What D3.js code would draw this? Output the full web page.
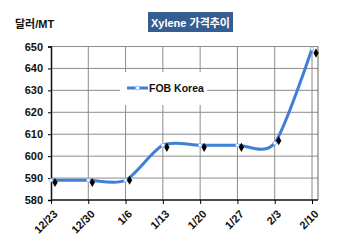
<!DOCTYPE html>
<html>
<head>
<meta charset="utf-8">
<script src="https://cdn.jsdelivr.net/npm/d3@7"></script>
<style>
body { margin: 0; background: #fff; }
svg text { font-family: Arial, "Liberation Sans", "Noto Sans CJK KR", sans-serif; font-weight: bold; }
</style>
</head>
<body>
<svg id="chart" width="350" height="244"></svg>
<script>
var dates = ["12/23", "12/30", "1/6", "1/13", "1/20", "1/27", "2/3", "2/10"];
var fobKorea = [589, 589, 589, 605, 605, 605, 606, 649];
var marks = [588, 588, 589, 604, 604, 604, 607, 647];
var yTicks = [580, 590, 600, 610, 620, 630, 640, 650];

var svg = d3.select("#chart");
var plotL = 51, plotR = 318, plotT = 46.5, plotB = 200;

var x = d3.scalePoint().domain(dates).range([plotL, 312]);
var y = d3.scaleLinear().domain([580, 650]).range([plotB, plotT]);

// grid
var grid = svg.append("g");
grid.selectAll("line.h").data(yTicks.slice(1)).enter().append("line")
  .attr("x1", plotL).attr("x2", plotR)
  .attr("y1", function(d) { return y(d); }).attr("y2", function(d) { return y(d); })
  .attr("stroke", "#8c8c8c").attr("stroke-width", 1);
grid.selectAll("line.v").data(dates.slice(1)).enter().append("line")
  .attr("y1", plotT).attr("y2", plotB)
  .attr("x1", function(d) { return x(d); }).attr("x2", function(d) { return x(d); })
  .attr("stroke", "#8c8c8c").attr("stroke-width", 1);
svg.append("line").attr("x1", plotR).attr("x2", plotR).attr("y1", plotT).attr("y2", plotB)
  .attr("stroke", "#666");

// legend box covers grid
svg.append("rect").attr("x", 120).attr("y", 72).attr("width", 87).attr("height", 33).attr("fill", "#fff");

// axes
var yAxis = d3.axisLeft(y).tickValues(yTicks).tickSize(3).tickPadding(5);
var gy = svg.append("g").attr("transform", "translate(" + plotL + ",0)").call(yAxis);
gy.selectAll("text").attr("font-size", 11).attr("fill", "#111");
gy.select(".domain").attr("stroke", "#111").attr("stroke-width", 1.5);

var xAxis = d3.axisBottom(x).tickSize(4).tickSizeOuter(0);
var gx = svg.append("g").attr("transform", "translate(0," + plotB + ")").call(xAxis);
gx.select(".domain").attr("d", "M" + plotL + ",0H" + plotR).attr("stroke", "#111").attr("stroke-width", 1.5);
gx.selectAll("text")
  .attr("font-size", 11).attr("fill", "#111")
  .attr("text-anchor", "end")
  .attr("transform", "translate(4,12) rotate(-45)")
  .attr("dy", "0.35em").attr("y", 0).attr("x", 0);

// smooth line
var line = d3.line()
  .x(function(d, i) { return x(dates[i]); })
  .y(function(d) { return y(d); })
  .curve(d3.curveCardinal.tension(0.2));
svg.append("path").datum(fobKorea).attr("d", line)
  .attr("fill", "none").attr("stroke", "#3f7fd6").attr("stroke-width", 3);
svg.selectAll("circle.pt").data(fobKorea).enter().append("circle")
  .attr("cx", function(d, i) { return x(dates[i]); })
  .attr("cy", function(d) { return y(d); })
  .attr("r", 1.8).attr("fill", "#fff").attr("stroke", "#8fb4e6").attr("stroke-width", 0.8);

// black diamonds
svg.selectAll("path.dm").data(marks).enter().append("path")
  .attr("d", d3.symbol().type(d3.symbolDiamond).size(24))
  .attr("transform", function(d, i) { return "translate(" + (x(dates[i]) + 4) + "," + y(d) + ")"; })
  .attr("fill", "#000");

// legend
svg.append("line").attr("x1", 127).attr("x2", 148).attr("y1", 88).attr("y2", 88)
  .attr("stroke", "#3f7fd6").attr("stroke-width", 3);
svg.append("circle").attr("cx", 137.5).attr("cy", 88).attr("r", 2)
  .attr("fill", "#fff").attr("stroke", "#8fb4e6").attr("stroke-width", 0.8);
svg.append("text").attr("x", 149).attr("y", 92).attr("font-size", 10.5).attr("fill", "#111").text("FOB Korea");

// title
svg.append("rect").attr("x", 148).attr("y", 12).attr("width", 85).attr("height", 20).attr("fill", "#355d90");
svg.append("text").attr("x", 190.5).attr("y", 26.5).attr("text-anchor", "middle")
  .attr("font-size", 11).attr("fill", "#fff").text("Xylene 가격추이");

// unit
svg.append("text").attr("x", 15).attr("y", 28).attr("font-size", 11).attr("fill", "#111").text("달러/MT");
</script>
</body>
</html>
